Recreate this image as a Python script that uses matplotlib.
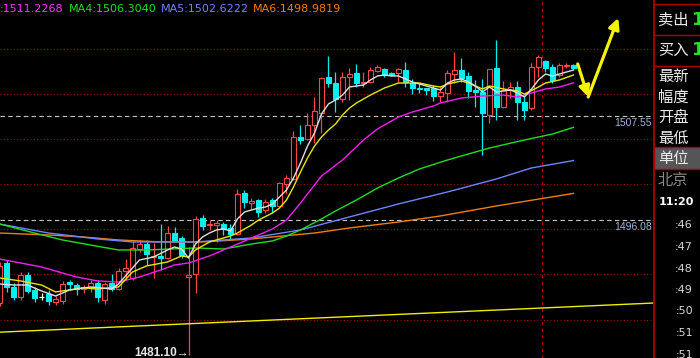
import numpy as np
import matplotlib
matplotlib.use('Agg')
from matplotlib import pyplot as plt
from matplotlib.patches import Rectangle

# ---- candle data (one bar per index) ----
opens = [1486.84, 1491.27, 1488.61, 1487.50, 1489.94, 1488.28, 1487.50, 1487.84, 1486.95, 1487.06,
         1489.16, 1488.83, 1488.39, 1488.61, 1489.05, 1487.17, 1489.05, 1488.39, 1490.38, 1489.61,
         1492.82, 1493.37, 1491.93, 1492.05, 1491.82, 1494.59, 1494.04, 1489.72, 1490.05, 1496.26,
         1495.48, 1495.48, 1495.59, 1495.15, 1494.48, 1499.03, 1497.92, 1498.25, 1497.14, 1498.25,
         1497.59, 1500.02, 1500.58, 1505.23, 1505.01, 1506.56, 1507.89, 1511.88, 1511.21, 1509.44,
         1511.88, 1512.32, 1511.21, 1511.32, 1512.54, 1512.76, 1512.32, 1512.32, 1512.65, 1511.21,
         1510.66, 1510.66, 1510.66, 1509.77, 1510.11, 1512.21, 1512.65, 1511.99, 1510.44, 1510.22,
         1507.67, 1512.88, 1508.55, 1510.44, 1510.77, 1509.11, 1508.44, 1512.99, 1513.65, 1512.99,
         1512.10, 1513.10, 1513.21]
highs = [1491.38, 1491.60, 1489.05, 1490.27, 1490.27, 1488.61, 1487.95, 1488.28, 1487.61, 1489.28,
         1489.39, 1489.05, 1488.83, 1489.39, 1489.39, 1489.16, 1490.05, 1490.72, 1491.71, 1493.71,
         1493.82, 1493.82, 1493.49, 1495.59, 1495.37, 1495.26, 1494.26, 1493.04, 1496.48, 1496.59,
         1496.03, 1496.03, 1495.81, 1495.59, 1499.47, 1499.36, 1498.47, 1498.36, 1498.36, 1498.47,
         1500.24, 1501.02, 1505.90, 1506.56, 1507.89, 1509.66, 1511.88, 1514.21, 1512.43, 1512.43,
         1512.88, 1513.32, 1512.43, 1512.99, 1513.21, 1512.88, 1512.43, 1512.88, 1513.54, 1511.66,
         1511.21, 1510.66, 1510.99, 1510.77, 1512.65, 1514.65, 1513.98, 1512.43, 1511.55, 1511.66,
         1512.76, 1515.98, 1511.44, 1511.32, 1511.44, 1509.66, 1513.43, 1514.32, 1513.76, 1513.32,
         1513.43, 1513.43, 1513.32]
lows = [1486.51, 1488.06, 1487.17, 1487.17, 1487.95, 1486.95, 1487.17, 1486.62, 1486.62, 1486.73,
        1488.28, 1487.72, 1487.95, 1488.06, 1486.95, 1486.73, 1488.17, 1488.28, 1489.61, 1489.39,
        1492.49, 1491.05, 1489.61, 1490.49, 1491.71, 1493.60, 1491.82, 1481.10, 1487.95, 1494.93,
        1494.93, 1493.60, 1494.37, 1493.82, 1494.37, 1497.36, 1497.14, 1496.37, 1496.81, 1496.81,
        1497.47, 1498.92, 1500.47, 1504.45, 1504.90, 1504.57, 1505.67, 1510.77, 1508.00, 1509.11,
        1509.33, 1510.77, 1510.77, 1511.21, 1512.43, 1511.88, 1511.99, 1511.32, 1510.77, 1509.99,
        1510.11, 1509.88, 1509.22, 1509.11, 1509.11, 1511.21, 1511.32, 1509.55, 1508.55, 1503.24,
        1506.78, 1507.11, 1508.44, 1509.55, 1507.11, 1507.11, 1508.22, 1511.88, 1512.43, 1511.21,
        1511.88, 1512.88, 1512.65]
closes = [1490.94, 1488.61, 1487.50, 1489.94, 1488.17, 1487.39, 1487.50, 1487.06, 1487.28, 1488.94,
          1488.94, 1488.39, 1488.61, 1489.05, 1487.50, 1488.94, 1488.39, 1490.38, 1490.72, 1492.93,
          1493.37, 1492.27, 1492.05, 1491.82, 1494.59, 1493.82, 1492.16, 1489.94, 1496.15, 1495.37,
          1495.59, 1495.70, 1495.04, 1494.48, 1498.92, 1498.03, 1498.14, 1496.92, 1498.03, 1497.59,
          1500.13, 1500.69, 1505.23, 1504.90, 1506.56, 1508.11, 1511.77, 1511.21, 1509.44, 1511.88,
          1512.21, 1511.21, 1511.32, 1512.65, 1512.99, 1512.10, 1512.10, 1512.76, 1511.32, 1510.66,
          1510.55, 1510.44, 1509.77, 1510.22, 1512.32, 1512.65, 1511.77, 1510.33, 1510.22, 1507.89,
          1512.76, 1508.55, 1510.44, 1510.77, 1509.11, 1508.22, 1512.99, 1514.09, 1512.88, 1511.55,
          1513.21, 1513.21, 1512.88]

# ---- moving average lines ----
ma1_x = [0, 2, 4, 6, 8, 10, 12, 13, 16, 17, 19, 20, 22, 24, 25, 26, 27, 28, 29, 30, 31, 32, 33,
         34, 35, 36, 37, 38, 39, 40, 41, 42, 43, 44, 45, 46, 47, 48, 49, 50, 51, 52, 53, 54, 55,
         56, 57, 58, 59, 60, 61, 62, 63, 64, 65, 66, 67, 68, 69, 70, 71, 72, 73, 74, 75, 76, 77,
         78, 79, 80, 81, 82]
ma1_y = [1488.94, 1488.83, 1488.83, 1488.17, 1487.61, 1488.28, 1488.50, 1488.61, 1488.39, 1488.94,
         1490.72, 1491.60, 1491.93, 1492.71, 1493.04, 1492.82, 1491.82, 1493.37, 1494.15, 1494.59,
         1494.93, 1495.04, 1494.82, 1496.15, 1496.92, 1497.14, 1497.36, 1497.47, 1497.81, 1498.58,
         1499.36, 1500.69, 1502.35, 1504.23, 1505.67, 1507.78, 1508.89, 1509.33, 1509.88, 1510.77,
         1510.88, 1510.99, 1511.55, 1511.99, 1512.10, 1511.99, 1511.99, 1511.66, 1511.32, 1511.10,
         1510.88, 1510.66, 1510.44, 1511.21, 1511.55, 1511.66, 1511.32, 1510.88, 1510.22, 1510.77,
         1510.22, 1510.33, 1510.44, 1510.11, 1509.66, 1510.55, 1511.55, 1512.21, 1511.99, 1512.21,
         1512.43, 1512.65]
ma2_x = [0, 3, 6, 8, 10, 12, 14, 17, 19, 21, 24, 26, 27, 28, 30, 32, 33, 34, 36, 37, 39, 40, 41,
         42, 43, 44, 45, 46, 47, 48, 49, 50, 51, 53, 55, 57, 60, 62, 63, 64, 66, 67, 69, 70, 72,
         74, 75, 77, 78, 80, 82]
ma2_y = [1489.61, 1489.28, 1488.83, 1488.06, 1488.28, 1488.50, 1488.39, 1488.61, 1490.27, 1490.94,
         1491.38, 1492.05, 1491.93, 1492.71, 1493.60, 1494.04, 1494.26, 1494.59, 1495.48, 1496.03,
         1496.81, 1497.36, 1498.25, 1499.69, 1501.35, 1502.90, 1504.23, 1505.23, 1506.01, 1506.67,
         1507.67, 1508.44, 1509.00, 1509.88, 1510.66, 1511.21, 1511.21, 1510.88, 1510.77, 1511.10,
         1511.44, 1511.21, 1510.55, 1510.88, 1510.55, 1510.33, 1509.99, 1510.77, 1511.21, 1511.55,
         1512.10]
ma3_x = [0, 3, 6, 9, 11, 14, 17, 20, 23, 25, 27, 30, 32, 34, 36, 39, 41, 43, 46, 49, 52, 54, 57,
         59, 62, 63, 66, 69, 72, 74, 76, 78, 80, 82]
ma3_y = [1491.71, 1491.27, 1490.83, 1490.16, 1489.72, 1489.28, 1489.16, 1489.72, 1490.49, 1491.05,
         1491.27, 1492.05, 1492.71, 1493.37, 1494.04, 1495.04, 1496.03, 1497.92, 1500.91, 1502.68,
         1504.90, 1506.12, 1507.45, 1508.00, 1508.67, 1509.00, 1509.55, 1509.77, 1509.88, 1509.66,
         1510.11, 1510.55, 1510.77, 1511.23]
ma4_x = [0, 5, 9, 13, 17, 21, 28, 32, 36, 39, 41, 43, 46, 48, 51, 54, 57, 60, 64, 67, 70, 75, 79, 82]
ma4_y = [1495.59, 1494.59, 1493.82, 1493.26, 1492.71, 1492.71, 1492.93, 1492.82, 1493.37, 1493.71,
         1494.26, 1494.93, 1496.15, 1497.03, 1498.25, 1499.58, 1500.69, 1501.69, 1502.68, 1503.35,
         1504.01, 1504.90, 1505.56, 1506.30]
ma5_x = [0, 7, 14, 19, 28, 36, 43, 50, 57, 64, 71, 76, 82]
ma5_y = [1495.59, 1494.59, 1493.93, 1493.60, 1493.60, 1494.04, 1494.93, 1496.37, 1497.81, 1499.14,
         1500.58, 1501.80, 1502.62]
ma6_x = [0, 7, 12, 17, 23, 29, 36, 45, 50, 57, 63, 71, 82]
ma6_y = [1494.59, 1494.37, 1494.15, 1493.82, 1493.60, 1493.60, 1493.93, 1494.59, 1495.15, 1495.81,
         1496.48, 1497.59, 1498.98]

# long yellow trend line near the bottom
trend_x = [0, 94]
trend_y = [1483.60, 1486.85]

legend_parts = [(':1511.2268', '#ff33ff'), ('MA4:1506.3040', '#22dd22'),
                ('MA5:1502.6222', '#6f84ff'), ('MA6:1498.9819', '#f07e10')]

high_mark, low_mark, lowest = 1507.55, 1496.08, 1481.10
grid_levels = np.arange(1485, 1520, 5)
divider_x = 77.5

side_labels = ['卖出', '买入', '最新', '幅度', '开盘', '最低', '单位', '北京']
time_labels = [':46', ':47', ':48', ':49', ':50', ':51', ':51']

UP, DOWN = '#ff4646', '#00f0f0'
DARKRED = '#b00000'

fig = plt.figure(figsize=(7, 3.58), dpi=100, facecolor='black')
ax = fig.add_axes([0, 0, 653 / 700, 1])
ax.set_facecolor('black')
ax.set_xlim(0.07, 93.36)
ax.set_ylim(1480.74, 1520.41)
ax.axis('off')

# background guides
for g in grid_levels:
    ax.axhline(g, color='#9a0000', lw=0.8, ls=(0, (1, 2)), zorder=1)
for lvl in (high_mark, low_mark):
    ax.axhline(lvl, color='#c8c8c8', lw=0.8, ls=(0, (4, 3)), zorder=1)
ax.axvline(divider_x, color=DARKRED, lw=0.8, ls=(0, (3, 3)), zorder=1)

# candles
w = 0.72
for i, (o, h, l, c) in enumerate(zip(opens, highs, lows, closes)):
    if c > o:
        col = UP
    elif c < o:
        col = DOWN
    else:
        col = 'white'
    ax.vlines(i, l, h, color=col, lw=0.9, zorder=2)
    lo, hi = min(o, c), max(o, c)
    if c > o:
        ax.add_patch(Rectangle((i - w / 2, lo), w, hi - lo, facecolor='black',
                               edgecolor=col, lw=0.8, zorder=3))
    elif c < o:
        ax.add_patch(Rectangle((i - w / 2, lo), w, hi - lo, facecolor=col,
                               edgecolor=col, lw=0.8, zorder=3))
    else:
        ax.hlines(o, i - w / 2, i + w / 2, color=col, lw=0.9, zorder=3)

# moving averages
ax.plot(ma6_x, ma6_y, color='#f07e10', lw=1, zorder=4)
ax.plot(ma5_x, ma5_y, color='#6f84ff', lw=1, zorder=4)
ax.plot(ma4_x, ma4_y, color='#22dd22', lw=1, zorder=4)
ax.plot(ma3_x, ma3_y, color='#f020f0', lw=1, zorder=4)
ax.plot(ma2_x, ma2_y, color='#e8e800', lw=1, zorder=4)
ax.plot(ma1_x, ma1_y, color='#e0e0e0', lw=1, zorder=4)
ax.plot(trend_x, trend_y, color='#f0f000', lw=1, zorder=4)

# price labels
ax.text(93.2, high_mark - 0.25, f'{high_mark:.2f}', ha='right', va='top',
        color='#9fb2d6', fontsize=7.5, family='Liberation Sans')
ax.text(93.2, low_mark - 0.25, f'{low_mark:.2f}', ha='right', va='top',
        color='#9fb2d6', fontsize=7.5, family='Liberation Sans')
ax.text(27.1, lowest + 0.2, f'{lowest:.2f}→', ha='right', va='center',
        color='#e8e8e8', fontsize=8.5, fontweight='bold', family='Liberation Sans')

# hand drawn yellow arrows
arrow = dict(arrowstyle='-|>', color='#f5f500', lw=2.3, mutation_scale=16,
             shrinkA=0, shrinkB=0)
ax.annotate('', xy=(84.1, 1509.66), xytext=(82.6, 1513.32), arrowprops=arrow, zorder=5)
ax.annotate('', xy=(88.4, 1518.42), xytext=(84.1, 1509.66), arrowprops=arrow, zorder=5)

# top legend
xs = [0, 69, 161, 253]
for (txt, col), x in zip(legend_parts, xs):
    fig.text(x / 700, 1 - 8.5 / 358, txt, color=col, fontsize=8,
             family='DejaVu Sans', va='center', ha='left')

# right info panel, in pixel units
ax2 = fig.add_axes([653 / 700, 0, 47 / 700, 1])
ax2.set_xlim(0, 47)
ax2.set_ylim(358, 0)
ax2.axis('off')
ax2.add_patch(Rectangle((0.5, 147), 47, 22, facecolor='#555555', edgecolor=DARKRED, lw=1))
ax2.axvline(0.5, color=DARKRED, lw=1.3)
ax2.hlines([4, 35, 66], 0, 47, color=DARKRED, lw=1)

cjk = ['Noto Sans CJK SC', 'DejaVu Sans']
label_y = [20, 50, 76, 97.5, 117, 138, 158, 180]
for s, y in zip(side_labels, label_y):
    ax2.text(5, y, s, color='#8a8a8a' if s == '北京' else '#ececec', fontsize=11,
             family=cjk, va='center', ha='left')
for y in (20, 50):
    ax2.text(39, y, '1', color='#22e022', fontsize=13, fontweight='bold',
             va='center', ha='left')
ax2.text(6, 202, '11:20', color='white', fontsize=8, fontweight='bold',
         va='center', ha='left')
time_y = [225, 247, 268.5, 290, 311.5, 333.5, 355]
for s, y in zip(time_labels, time_y):
    ax2.text(40, y, s, color='#d8d8d8', fontsize=8, va='center', ha='right')

fig.savefig('out.png', dpi=100, facecolor='black')
